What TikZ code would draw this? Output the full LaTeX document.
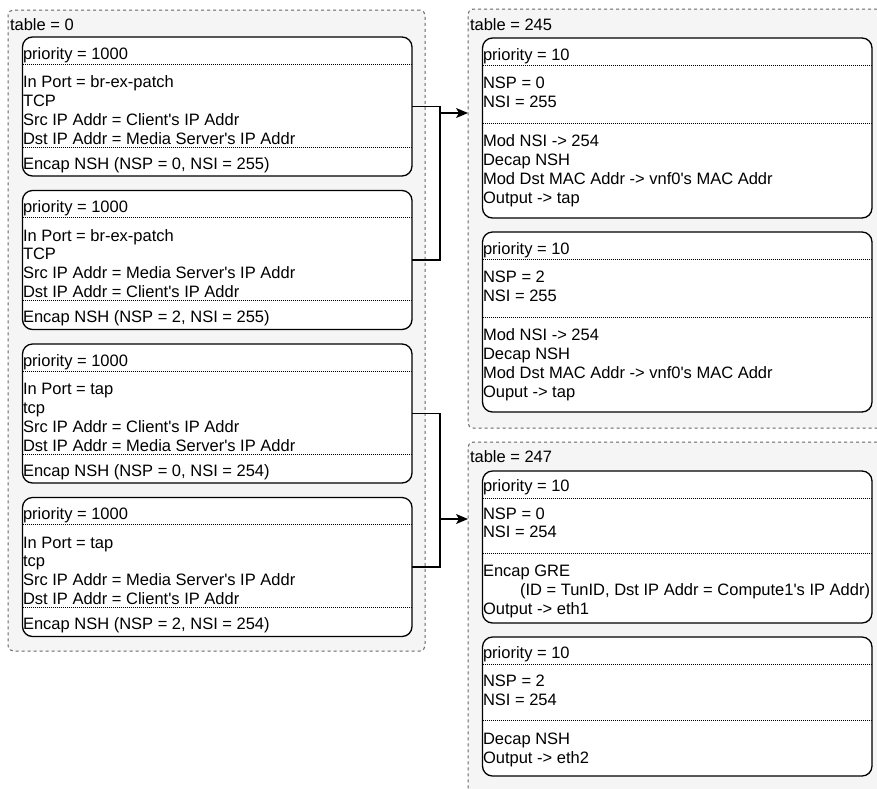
\documentclass[tikz,border=0pt]{standalone}
\usepackage{fontspec}
\setmainfont{Liberation Sans}
\usetikzlibrary{arrows.meta}

\definecolor{panelfill}{HTML}{F5F5F5}
\definecolor{panelline}{HTML}{666666}

\newcommand\apo{\textquotesingle}

\tikzset{
  tablepanel/.style={rectangle, draw=panelline, fill=panelfill, line width=1pt,
    dash pattern=on 3pt off 3pt, rounded corners=5pt, anchor=north west,
    inner sep=0pt, outer sep=0pt},
  flowbox/.style={rectangle, draw=black, fill=white, line width=1.3pt,
    rounded corners=10pt, anchor=north west, inner sep=0pt, outer sep=0pt,
    minimum width=389.5pt},
  sepline/.style={line width=0.9pt, dash pattern=on 1pt off 1pt},
  rowtext/.style={anchor=base west, inner sep=0pt, outer sep=0pt,
    font=\fontsize{16.5}{19}\selectfont},
  link/.style={line width=1.3pt},
  linkarrow/.style={line width=1.3pt, -{Stealth[length=12pt, width=10pt, inset=3pt]}},
}

% one flow entry: #1 name, #2 left, #3 top, #4 height, #5/#6 separator offsets
\newcommand\flowframe[6]{%
  \node[flowbox, minimum height=#4pt] (#1) at (#2,#3) {};
  \draw[sepline] ([yshift=-#5pt]#1.north west) -- ([yshift=-#5pt]#1.north east);
  \draw[sepline] ([yshift=-#6pt]#1.north west) -- ([yshift=-#6pt]#1.north east);
}

% text rows: #1 name prefix, #2 left, #3 first baseline, #4 list of rows
\newcommand\flowrows[4]{%
  \foreach \txt [count=\k from 0] in {#4} {
    \node[rowtext] (#1-\k) at (#2, #3 + 18.9*\k) {\txt};
  }
}

\begin{document}
\begin{tikzpicture}[x=1pt, y=-1pt]
\path[use as bounding box, clip] (0,0) rectangle (877,788);

% ---------------- table panels ----------------
\node[tablepanel, minimum width=417pt, minimum height=641pt] (t0) at (8,10) {};
\node[rowtext] (t0-title) at (10,30.5) {table = 0};

\node[tablepanel, minimum width=420pt, minimum height=419pt] (t245) at (468,9) {};
\node[rowtext] (t245-title) at (470,30.5) {table = 245};

\node[tablepanel, minimum width=420pt, minimum height=360pt] (t247) at (468,442) {};
\node[rowtext] (t247-title) at (470,462) {table = 247};

% ---------------- table 0 entries ----------------
\flowframe{L1}{22.5}{37}{139}{27}{110}
\flowrows{L1p}{23}{59}{priority = 1000}
\flowrows{L1m}{23}{87.5}{In Port = br-ex-patch, TCP, Src IP Addr = Client\apo s IP Addr, Dst IP Addr = Media Server\apo s IP Addr}
\flowrows{L1a}{23}{169}{{Encap NSH (NSP = 0, NSI = 255)}}

\flowframe{L2}{22.5}{190.5}{139}{27}{110}
\flowrows{L2p}{23}{212.5}{priority = 1000}
\flowrows{L2m}{23}{241}{In Port = br-ex-patch, TCP, Src IP Addr = Media Server\apo s IP Addr, Dst IP Addr = Client\apo s IP Addr}
\flowrows{L2a}{23}{322.5}{{Encap NSH (NSP = 2, NSI = 255)}}

\flowframe{L3}{22.5}{344}{139}{27}{110}
\flowrows{L3p}{23}{366}{priority = 1000}
\flowrows{L3m}{23}{394.5}{In Port = tap, tcp, Src IP Addr = Client\apo s IP Addr, Dst IP Addr = Media Server\apo s IP Addr}
\flowrows{L3a}{23}{476}{{Encap NSH (NSP = 0, NSI = 254)}}

\flowframe{L4}{22.5}{497.5}{139}{27}{110}
\flowrows{L4p}{23}{519.5}{priority = 1000}
\flowrows{L4m}{23}{548}{In Port = tap, tcp, Src IP Addr = Media Server\apo s IP Addr, Dst IP Addr = Client\apo s IP Addr}
\flowrows{L4a}{23}{629.5}{{Encap NSH (NSP = 2, NSI = 254)}}

% ---------------- table 245 entries ----------------
\flowframe{R1}{482.5}{38}{180}{27}{85}
\flowrows{R1p}{483}{60}{priority = 10}
\flowrows{R1m}{483}{88.3}{NSP = 0, NSI = 255}
\flowrows{R1a}{483}{146.7}{Mod NSI -> 254, Decap NSH, Mod Dst MAC Addr -> vnf0\apo s MAC Addr, Output -> tap}

\flowframe{R2}{482.5}{232}{180}{27}{85}
\flowrows{R2p}{483}{254}{priority = 10}
\flowrows{R2m}{483}{282.3}{NSP = 2, NSI = 255}
\flowrows{R2a}{483}{340.7}{Mod NSI -> 254, Decap NSH, Mod Dst MAC Addr -> vnf0\apo s MAC Addr, Ouput -> tap}

% ---------------- table 247 entries ----------------
\flowframe{R3}{482.5}{471}{152}{27}{82}
\flowrows{R3p}{483}{491}{priority = 10}
\flowrows{R3m}{483}{519}{NSP = 0, NSI = 254}
\flowrows{R3a}{483}{576.7}{Encap GRE, {\hspace*{37pt}(ID = TunID, Dst IP Addr = Compute1\apo s IP Addr)}, Output -> eth1}

\flowframe{R4}{482.5}{637}{139}{27}{83}
\flowrows{R4p}{483}{658}{priority = 10}
\flowrows{R4m}{483}{686.5}{NSP = 2, NSI = 254}
\flowrows{R4a}{483}{744.5}{Decap NSH, Output -> eth2}

% ---------------- links between tables ----------------
\coordinate (busA) at (440,113);
\coordinate (busB) at (440,519);

\draw[link] (L2.east) -| (busA);
\draw[linkarrow] (L1.east) -| (busA) -- (t245.west |- busA);

\draw[link] (L4.east) -| (busB);
\draw[linkarrow] (L3.east) -| (busB) -- (t247.west |- busB);
\end{tikzpicture}
\end{document}
